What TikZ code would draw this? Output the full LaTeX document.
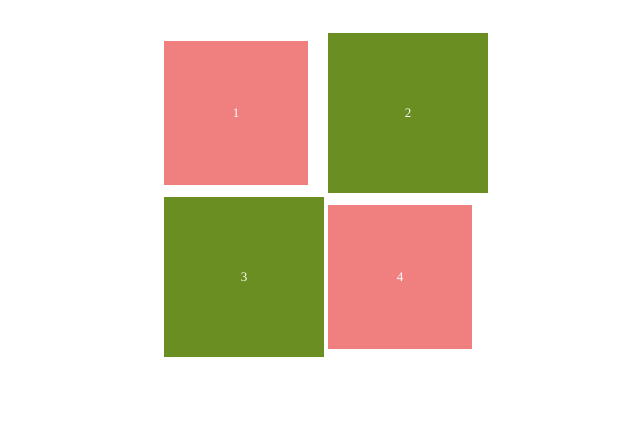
\documentclass[tikz,border=0pt]{standalone}
\usepackage{fontspec}
\setmainfont{Liberation Serif}
\usepackage{xcolor}
\usetikzlibrary{positioning}
\definecolor{lightcoral}{RGB}{240,128,128}
\definecolor{olivedrab}{RGB}{107,142,35}

\begin{document}
\begin{tikzpicture}[
  x=1pt, y=-1pt,
  font=\fontsize{13}{15}\selectfont,
  tile/.style={inner sep=0pt, outer sep=0pt, text=white, draw=none},
  small/.style={tile, minimum size=144pt},
  large/.style={tile, minimum size=160pt}
]
\useasboundingbox (0,0) rectangle (641,426);
\node[small, fill=lightcoral] (t1) at (236,113) {1};
\node[large, fill=olivedrab] (t2) at (408,113) {2};
\node[large, fill=olivedrab] (t3) at (244,277) {3};
\node[small, fill=lightcoral] (t4) at (400,277) {4};
\end{tikzpicture}
\end{document}
